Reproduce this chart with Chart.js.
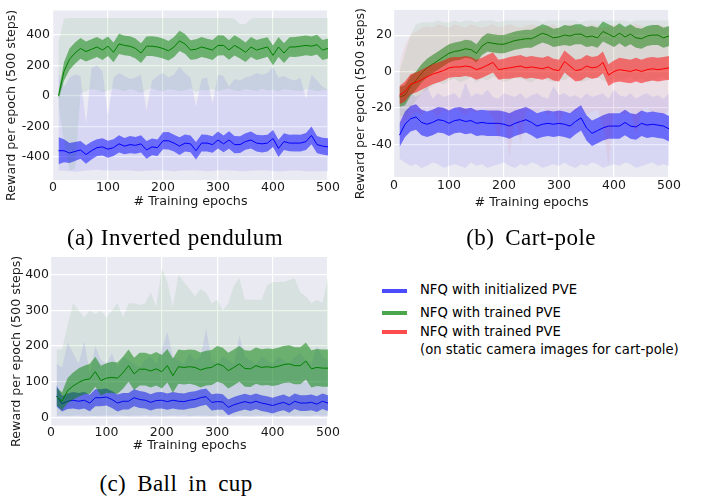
<!DOCTYPE html>
<html><head><meta charset="utf-8">
<script src="https://cdn.jsdelivr.net/npm/chart.js@4.4.1/dist/chart.umd.min.js"></script>
<style>
html,body{margin:0;padding:0;background:#fff;width:701px;height:496px;overflow:hidden;position:relative}
canvas{position:absolute}
.cap{position:absolute;font-family:'Liberation Serif','Times New Roman',serif;font-size:23px;line-height:23px;letter-spacing:0.4px;white-space:nowrap;transform:translateX(-50%);color:#000}
.leg{position:absolute;left:420px;font-family:'DejaVu Sans';font-size:13.2px;line-height:16px;white-space:nowrap;color:#000}
.sw{position:absolute;left:382px;width:25px;height:4px}
</style></head><body>
<canvas id="ca" width="345" height="215" style="left:0;top:0"></canvas>
<canvas id="cb" width="351" height="215" style="left:350px;top:0"></canvas>
<canvas id="cc" width="345" height="215" style="left:0;top:245px"></canvas>
<div class="cap" style="left:175px;top:225.7px;word-spacing:1px">(a) Inverted pendulum</div>
<div class="cap" style="left:531px;top:225.7px;word-spacing:5px">(b) Cart-pole</div>
<div class="cap" style="left:176px;top:472.4px;word-spacing:5px">(c) Ball in cup</div>
<div class="sw" style="top:289px;background:rgba(0,0,255,0.7)"></div>
<div class="sw" style="top:310.5px;background:rgba(0,128,0,0.7)"></div>
<div class="sw" style="top:330px;background:rgba(255,0,0,0.7)"></div>
<div class="leg" id="l1" style="top:282px"></div>
<div class="leg" id="l2" style="top:304.5px"></div>
<div class="leg" id="l3" style="top:323.3px;line-height:18px"></div>
<script>
const legendLabels = ['NFQ with initialized PVE', 'NFQ with trained PVE', 'NFQ with trained PVE<br>(on static camera images for cart-pole)'];
const xLabel = '# Training epochs';
const yLabel = 'Reward per epoch (500 steps)';
const xTicks = [0, 100, 200, 300, 400, 500];
const aTicks = [-400, -200, 0, 200, 400];
const bTicks = [-40, -20, 0, 20];
const cTicks = [0, 100, 200, 300, 400];

const epochs = [10,20,30,40,50,60,70,80,90,100,110,120,130,140,150,160,170,180,190,200,
210,220,230,240,250,260,270,280,290,300,310,320,330,340,350,360,370,380,390,400,
410,420,430,440,450,460,470,480,490,500];

// ---------- (a) Inverted pendulum ----------
const aBlueMean = [-360,-360,-375,-365,-355,-385,-360,-340,-335,-350,
-340,-315,-330,-320,-325,-315,-355,-335,-340,-295,
-295,-310,-330,-310,-315,-360,-310,-310,-320,-290,
-315,-290,-320,-320,-300,-290,-310,-315,-310,-280,
-345,-300,-310,-310,-310,-300,-260,-320,-330,-335];
const aBlueStd = [88,75,65,62,58,60,58,55,57,56,
55,56,54,57,55,56,58,55,54,56,
57,55,58,56,55,57,56,55,54,56,
55,57,56,55,54,56,55,57,55,56,
57,55,54,56,55,56,58,57,55,56];
const aBlueHi = [150,60,120,140,130,-180,180,200,160,-130,
120,150,130,110,120,140,-100,100,130,150,
120,140,190,150,120,-70,110,120,-50,140,
130,60,110,100,120,130,150,140,150,190,
120,130,110,100,120,-20,140,100,60,40];
const aBlueLo = [-490,-492,-495,-498,-495,-490,-488,-485,-488,-490,
-492,-490,-488,-490,-493,-495,-492,-490,-488,-490,
-492,-494,-492,-490,-488,-490,-492,-495,-493,-490,
-488,-490,-492,-494,-495,-492,-490,-488,-490,-493,
-495,-494,-492,-490,-492,-495,-497,-495,-493,-495];
const aGreenMean = [0,160,240,280,310,290,305,320,300,325,
285,340,330,325,310,280,325,325,320,310,
295,320,360,340,300,305,320,310,300,330,
330,300,330,310,285,320,300,310,320,265,
320,280,320,320,325,330,325,335,300,310];
const aGreenStd = [25,60,70,70,68,66,65,66,65,64,
65,66,64,65,66,65,64,65,66,65,
64,65,66,65,64,66,65,64,65,66,
65,64,66,65,64,65,66,65,64,65,
66,65,64,65,66,65,64,65,66,65];
const aGreenHi = [350,505,510,510,510,510,510,510,510,510,
510,510,510,510,510,510,510,510,510,510,
510,510,510,510,510,510,510,510,510,510,
510,510,505,470,470,505,510,510,510,510,
510,510,510,510,510,510,510,510,510,510];
const aGreenLo = [-60,-300,-490,-480,20,30,45,40,25,35,
50,40,30,45,35,20,40,50,35,30,
45,40,30,35,50,25,40,35,45,30,
40,50,35,30,45,40,30,50,35,40,
30,45,40,35,30,45,40,30,35,40];

// ---------- (b) Cart-pole ----------
const bBlueMean = [-35,-29,-26,-25,-28,-29,-28,-26.5,-27,-28.5,
-27,-26.5,-27.5,-27,-28.5,-28,-28.5,-28.5,-28.5,-29,
-30,-28.5,-27.5,-26.5,-28,-30,-29,-28.5,-29,-28.5,
-29,-30,-27.5,-25.5,-31,-34,-32.5,-31,-30,-30,
-30,-28,-30,-30.5,-28.5,-29.5,-29,-29.5,-30,-31.5];
const bBlueStd = [6.5,7,7,7,7,7,7,7,7,7,
7,7,7,7,7,7,7,7,7,7,
7,7,7,7,7,7,7,7,7,7,
7,7,7,7,7,7,7,7,7,7,
7,7,7,7,7,7,7,7,7,7];
const bBlueHi = [-12,-10,-12,-14,-12,-8,-15,-12,-14,-13,
-12,-15,-6,-14,-12,-13,-10,-14,-15,-12,
-13,-14,-12,-15,-13,-12,-14,-15,-8,-13,
-12,-14,-13,-15,-12,-14,-13,-12,-15,-10,
-13,-14,-12,-15,-13,-12,-14,-13,-15,-12];
const bBlueLo = [-48,-50,-52,-51,-53,-52,-50,-51,-53,-52,
-51,-52,-53,-50,-52,-51,-53,-52,-51,-50,
-52,-53,-51,-52,-50,-51,-53,-52,-51,-52,
-50,-52,-53,-51,-52,-50,-51,-53,-52,-51,
-52,-50,-51,-53,-52,-51,-50,-52,-51,-52];
const bGreenMean = [-14,-13,-8,-5,-1,2,4,6,8,10,
11,11.5,12.5,12,10,14,16,15.5,15,15,
16,17,17.5,18,18,19.5,21,20,18.5,19,
20,19.5,20.5,20.5,19,19.5,18.5,22,20.5,19,
21,19,20.5,18.5,18,19.5,20,20,18.5,19.5];
const bGreenStd = [5.5,5.5,5.5,5,5,5,5,5,5,5,
5,5,5,5,5,5,5,5,5,5,
5,5,5,5,5,5,5,5,5,5,
5.5,5.5,5.5,5.5,5.5,5.5,5.5,5.5,5.5,5.5,
5.5,5.5,5.5,5.5,5.5,5.5,5.5,5.5,5.5,5.5];
const bGreenHi = [0,10,20,26,27,27,27,28,27,27,
28,27,28,28,27,28,28,28,27,28,
28,28,28,28,28,28,27,28,28,28,
28,28,28,27,28,28,28,28,28,28,
28,28,27,28,28,28,28,28,28,28];
const bGreenLo = [-24,-25,-20,-16,-12,-10,-8,-6,-7,-5,
-4,-6,-5,-3,-6,-4,-5,-3,-4,-6,
-5,-3,-4,-5,-6,-4,-3,-5,-6,-4,
-5,-3,-4,-6,-5,-4,-3,-5,-6,-4,
-5,-4,-3,-5,-4,-6,-5,-4,-3,-5];
const bRedMean = [-13,-11,-7,-6,-4.5,-3,-1.5,-0.5,0.5,2,
2.5,2.5,3,2.5,1,2,3.5,5,1,1.5,
2,2.5,3,2,2.5,2,1.5,2.5,1,0.5,
5.5,3,0.5,1,3,2,2.5,5,-2,0,
1,0.5,0,1,0,1,1.5,1,1.5,2];
const bRedStd = [5,5.5,5.5,5.5,5.5,5.5,5.5,5.5,5.5,5.5,
5.5,5.5,5.5,5.5,5.5,5.5,5.5,5.5,5.5,5.5,
6,6,6,6,6,6,6,6,6,6,
6,6,6,6,6,6,6,6,6,6,
6.5,6.5,6.5,6.5,6.5,6.5,6.5,6.5,6.5,6.5];
const bRedHi = [5,15,20,22,24,25,24,26,25,24,
26,25,24,26,25,24,25,26,24,25,
26,25,24,25,26,25,24,25,26,24,
25,26,25,24,25,26,25,24,25,26,
25,24,25,26,25,24,25,26,25,24];
const bRedLo = [-30,-28,-25,-22,-24,-20,-22,-25,-21,-23,
-20,-22,-24,-21,-23,-20,-22,-25,-38,-22,
-48,-24,-40,-22,-21,-23,-20,-24,-22,-30,
-21,-23,-22,-20,-24,-22,-21,-30,-52,-23,
-22,-24,-21,-35,-22,-20,-23,-22,-24,-21];

// ---------- (c) Ball in cup ----------
const cBlueMean = [60,38,45,48,45,48,40,55,55,57,
50,40,45,45,55,50,48,42,47,48,
44,48,45,44,48,50,55,58,42,44,
43,28,35,40,44,40,45,40,37,33,
38,42,35,45,40,40,42,37,45,40];
const cBlueStd = [30,22,22,23,23,23,23,24,24,24,
24,24,23,23,24,24,23,23,23,23,
23,23,23,23,23,23,23,23,23,23,
22,22,22,22,22,22,22,22,22,22,
22,22,22,22,22,22,22,22,22,22];
const cBlueHi = [150,140,210,180,150,215,120,200,160,150,
180,140,170,160,150,140,160,170,150,190,
240,170,160,150,180,160,170,250,160,150,
170,160,150,230,170,160,150,170,160,150,
170,160,150,170,180,160,150,200,170,160];
const cBlueLo = [2,3,2,4,3,2,3,4,2,3,
3,2,4,3,2,3,4,2,3,2,
3,4,2,3,2,4,3,2,3,4,
2,3,2,4,3,2,3,4,2,3,
2,3,4,2,3,2,3,4,2,3];
const cGreenMean = [58,45,75,88,98,105,108,128,103,110,
112,110,125,145,122,135,135,130,136,128,
145,117,142,140,142,140,133,138,140,150,
145,131,140,150,137,136,145,140,142,140,
143,148,150,145,145,158,136,140,138,138];
const cGreenStd = [25,25,35,38,40,40,42,42,42,42,
44,44,45,45,45,46,46,46,47,47,
47,48,48,48,48,49,49,49,49,50,
50,50,50,50,51,51,51,51,51,52,
52,52,52,52,52,52,52,52,52,52];
const cGreenHi = [190,190,260,320,300,280,300,290,300,280,
300,320,280,320,320,315,320,350,310,420,
380,310,400,380,360,340,360,350,320,330,
300,320,370,390,330,330,330,330,370,380,
380,380,385,390,350,340,320,330,320,390];
const cGreenLo = [5,6,4,5,7,5,6,4,5,6,
5,7,5,4,6,5,7,5,6,4,
5,6,5,7,4,5,6,5,4,6,
5,7,5,6,4,5,6,5,7,5,
4,6,5,5,6,4,5,7,5,6];

const BLUE = '0,0,255', GREEN = '0,128,0', RED = '255,0,0';

const bgPlugin = {id:'bg', beforeDraw(ch){
  const a = ch.chartArea, c = ch.ctx;
  c.save(); c.fillStyle = '#EAEAF2';
  c.fillRect(a.left, a.top, a.right - a.left, a.bottom - a.top);
  c.restore();
}};

// trailing no-break spaces shift the centred, rotated axis title slightly downwards (as in the reference)
const yTitleText = yLabel + '\u00a0\u00a0\u00a0\u00a0\u00a0';

function panel(id, series, yMin, yMax, yTicks, L) {
  const datasets = [];
  let k = 0;
  const N = 100;
  const pts = arr => epochs.map((e, i) => ({x: e, y: arr[i]}));
  const base = {pointRadius: 0, borderWidth: 1, borderColor: 'rgba(0,0,0,0)', tension: 0, fill: false};
  series.forEach(s => {
    const lo = s.mean.map((m, i) => m - s.std[i]);
    const hi = s.mean.map((m, i) => m + s.std[i]);
    datasets.push({...base, data: pts(s.lo), order: N - (k++)});
    datasets.push({...base, data: pts(s.hi), fill: '-1', backgroundColor: `rgba(${s.c},${s.oa})`, order: N - (k++)});
    datasets.push({...base, data: pts(lo), order: N - (k++)});
    datasets.push({...base, data: pts(hi), fill: '-1', backgroundColor: `rgba(${s.c},0.5)`, order: N - (k++)});
    datasets.push({...base, data: pts(s.mean), borderWidth: 1, borderColor: `rgb(${s.c})`, order: N - (k++)});
  });
  const tickFont = {family: 'DejaVu Sans', size: 12.5};
  const titleFont = {family: 'DejaVu Sans', size: 12.7};
  new Chart(document.getElementById(id), {
    type: 'line',
    data: {datasets},
    options: {
      responsive: false, animation: false, devicePixelRatio: 1, events: [],
      layout: {padding: {top: L.top, right: L.right, left: 0, bottom: 0}},
      plugins: {legend: {display: false}, tooltip: {enabled: false}},
      scales: {
        x: {
          type: 'linear', min: 0, max: 500,
          afterBuildTicks: sc => { sc.ticks = xTicks.map(v => ({value: v})); },
          afterFit: sc => { sc.height = L.xh; },
          grid: {color: '#ffffff', lineWidth: 1.2, drawTicks: false},
          border: {display: false},
          ticks: {padding: L.xtp, color: '#1a1a1a', font: tickFont, maxRotation: 0, callback: v => String(v)},
          title: {display: true, text: xLabel, color: '#1a1a1a', font: titleFont, padding: {top: 0, bottom: L.xtb}}
        },
        y: {
          type: 'linear', min: yMin, max: yMax,
          afterBuildTicks: sc => { sc.ticks = yTicks.map(v => ({value: v})); },
          afterFit: sc => { sc.width = L.yw; },
          grid: {color: '#ffffff', lineWidth: 1.2, drawTicks: false},
          border: {display: false},
          ticks: {padding: L.ytp, color: '#1a1a1a', font: tickFont, callback: v => String(v)},
          title: {display: true, text: yTitleText, color: '#1a1a1a', font: titleFont, padding: {top: L.ytt, bottom: 0}}
        }
      }
    },
    plugins: [bgPlugin]
  });
}

panel('ca', [
  {mean: aBlueMean, std: aBlueStd, lo: aBlueLo, hi: aBlueHi, c: BLUE, oa: 0.08},
  {mean: aGreenMean, std: aGreenStd, lo: aGreenLo, hi: aGreenHi, c: GREEN, oa: 0.08}
], -552, 559, aTicks, {top: 10, right: 17, xh: 35, yw: 53, xtp: 0, xtb: 5.4, ytp: 3, ytt: 4.4});

panel('cb', [
  {mean: bBlueMean, std: bBlueStd, lo: bBlueLo, hi: bBlueHi, c: BLUE, oa: 0.08},
  {mean: bGreenMean, std: bGreenStd, lo: bGreenLo, hi: bGreenHi, c: GREEN, oa: 0.07},
  {mean: bRedMean, std: bRedStd, lo: bRedLo, hi: bRedHi, c: RED, oa: 0.05}
], -58, 33.8, bTicks, {top: 10, right: 32, xh: 38, yw: 44, xtp: 1, xtb: 4.4, ytp: 2, ytt: 3.4});

panel('cc', [
  {mean: cBlueMean, std: cBlueStd, lo: cBlueLo, hi: cBlueHi, c: BLUE, oa: 0.08},
  {mean: cGreenMean, std: cGreenStd, lo: cGreenLo, hi: cGreenHi, c: GREEN, oa: 0.08}
], -23, 450, cTicks, {top: 12, right: 17, xh: 34.5, yw: 51, xtp: 0, xtb: 6.4, ytp: 2, ytt: 9.4});

document.getElementById('l1').innerHTML = legendLabels[0];
document.getElementById('l2').innerHTML = legendLabels[1];
document.getElementById('l3').innerHTML = legendLabels[2];
</script>
</body></html>
